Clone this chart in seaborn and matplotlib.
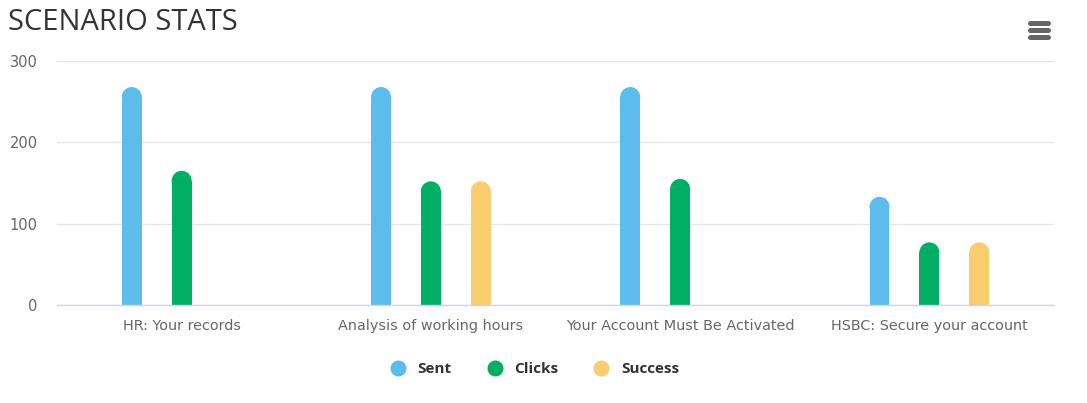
import matplotlib
matplotlib.use("Agg")
import matplotlib.pyplot as plt
from matplotlib.patches import Ellipse
from matplotlib.lines import Line2D
import seaborn as sns
import pandas as pd

# chart data
scenarios = ["HR: Your records", "Analysis of working hours",
             "Your Account Must Be Activated", "HSBC: Secure your account"]
sent = [268, 268, 268, 133]
clicks = [165, 152, 155, 77]
success = [0, 152, 0, 77]
series = ["Sent", "Clicks", "Success"]
colors = ["#5cbcec", "#00af64", "#f9cc6e"]
yticks = [0, 100, 200, 300]

df = pd.DataFrame({
    "scenario": scenarios * 3,
    "series": ["Sent"] * 4 + ["Clicks"] * 4 + ["Success"] * 4,
    "value": sent + clicks + success,
})

sns.set_theme(style="white")
plt.rcParams["font.family"] = ["DejaVu Sans"]

W, H = 1087, 403
fig = plt.figure(figsize=(W / 100, H / 100), dpi=100)
ax_l, ax_r, ax_t, ax_b = 57, 1054, 61, 305
ax = fig.add_axes([ax_l / W, 1 - ax_b / H, (ax_r - ax_l) / W, (ax_b - ax_t) / H])

sns.barplot(data=df, x="scenario", y="value", hue="series", order=scenarios,
            hue_order=series, palette=colors, width=0.6, gap=0.6,
            saturation=1, legend=False, ax=ax, linewidth=0)

ax.set_xlim(-0.5, 3.5)
ax.set_ylim(0, 300)

# round off the bar tops
px_x = (ax_r - ax_l) / 4.0
px_y = (ax_b - ax_t) / 300.0
for p in list(ax.patches):
    h = p.get_height()
    if h <= 0:
        continue
    w = p.get_width()
    r_y = (w * px_x / 2) / px_y
    p.set_height(max(h - r_y, 0))
    ax.add_patch(Ellipse((p.get_x() + w / 2, h - r_y), w, 2 * r_y,
                         facecolor=p.get_facecolor(), edgecolor="none", zorder=p.get_zorder()))

ax.set_yticks(yticks)
ax.yaxis.grid(True, color="#e6e6e6", linewidth=1)
ax.set_axisbelow(True)
for s in ["top", "right", "left"]:
    ax.spines[s].set_visible(False)
ax.spines["bottom"].set_color("#ccd6eb")
ax.spines["bottom"].set_linewidth(1)
ax.tick_params(axis="y", length=0, pad=14, labelsize=10.5, labelcolor="#666666")
ax.tick_params(axis="x", length=0, pad=10, labelsize=10.4, labelcolor="#666666")
ax.set_xlabel("")
ax.set_ylabel("")

fig.text(8 / W, 1 - 23 / H, "SCENARIO STATS", fontsize=21, color="#333333",
         va="center", ha="left", family="Open Sans")

handles = [Line2D([], [], marker="o", linestyle="", markersize=10.5,
                  markerfacecolor=c, markeredgecolor=c) for c in colors]
leg = fig.legend(handles, series, loc="center", bbox_to_anchor=(531 / W, 1 - 369 / H),
                 ncol=3, frameon=False, handletextpad=0.3, columnspacing=1.8,
                 prop={"weight": "bold", "size": 11, "family": "Open Sans"})
for t in leg.get_texts():
    t.set_color("#333333")

# menu icon
for yy in [23, 30, 37]:
    fig.add_artist(Line2D([1030 / W, 1048 / W], [1 - yy / H, 1 - yy / H],
                          color="#666666", linewidth=3.6, solid_capstyle="round"))

fig.savefig("out.png", dpi=100, facecolor="white")
